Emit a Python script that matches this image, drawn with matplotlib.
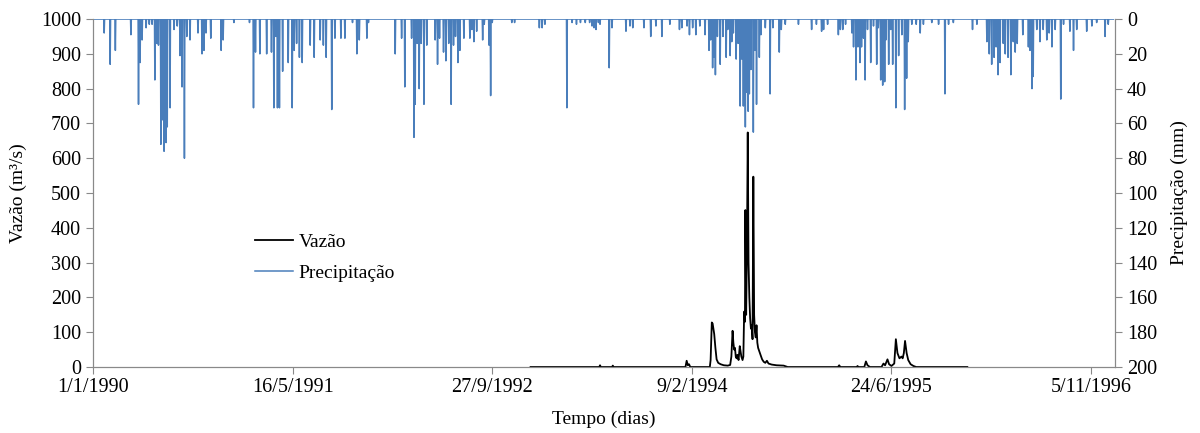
import datetime as dt
import numpy as np
import matplotlib
matplotlib.use("Agg")
import matplotlib.pyplot as plt
from matplotlib.ticker import FuncFormatter, MultipleLocator

plt.rcParams["font.family"] = ["Liberation Serif", "DejaVu Serif"]

START = dt.date(1990, 1, 1)
N_DAYS = 2557  # 1/1/1990 .. 31/12/1996

# daily rainfall events (day counted from 1/1/1990, mm); other days are dry
rain_day = [
    28, 43, 56, 95, 114, 118, 123, 133, 141, 148, 155, 160, 164, 170, 175, 178,
    183, 186, 193, 203, 211, 218, 223, 229, 235, 243, 263, 273, 278, 283, 295,
    321, 326, 353, 392, 402, 407, 418, 435, 447, 453, 458, 462, 467, 475, 489,
    499, 504, 510, 517, 524, 544, 554, 569, 577, 584, 598, 606, 621, 631,
    650, 661, 667, 686, 690, 757, 773, 781, 798, 804, 807, 812, 817, 822, 829,
    836, 857, 863, 868, 878, 884, 891, 897, 903, 908, 914, 919, 929, 944, 949,
    954, 961, 976, 980, 992, 996, 1000, 1049, 1056, 1118, 1125, 1132, 1187,
    1200, 1211, 1221, 1233, 1244, 1250, 1255, 1260, 1266, 1270, 1293, 1300,
    1335, 1345, 1352, 1380, 1397, 1410, 1425, 1445, 1469, 1475, 1488, 1494,
    1502, 1510, 1520, 1533, 1543, 1547, 1552, 1555, 1559, 1564, 1571, 1578,
    1586, 1590, 1596, 1600, 1604, 1611, 1616, 1621, 1625, 1629, 1634, 1637,
    1641, 1644, 1648, 1654, 1658, 1662, 1669, 1673, 1684, 1696, 1703, 1719,
    1724, 1734, 1767, 1800, 1812, 1825, 1830, 1840, 1867, 1872, 1878, 1885,
    1901, 1905, 1911, 1916, 1921, 1925, 1930, 1934, 1940, 1948, 1955, 1963,
    1967, 1973, 1978, 1983, 1986, 1993, 1998, 2003, 2011, 2018, 2026, 2033,
    2038, 2042, 2051, 2062, 2072, 2080, 2101, 2118, 2134, 2143, 2155, 2203,
    2214, 2239, 2245, 2251, 2257, 2262, 2267, 2272, 2280, 2285, 2292, 2299,
    2305, 2310, 2315, 2329, 2343, 2347, 2352, 2355, 2364, 2372, 2380, 2389,
    2395, 2402, 2410, 2424, 2431, 2447, 2456, 2464, 2489, 2502, 2514, 2535,
    2543,
]
rain_mm = [
    8, 26, 18, 9, 49, 25, 12, 5, 3, 3, 35, 14, 15, 72, 58, 76,
    71, 62, 51, 6, 4, 21, 39, 80, 10, 12, 8, 20, 18, 8, 11,
    18, 12, 2, 2, 51, 19, 20, 20, 19, 51, 10, 51, 51, 30, 25,
    51, 18, 14, 22, 25, 15, 22, 12, 15, 22, 52, 11, 11, 11,
    2, 20, 12, 11, 2, 20, 11, 39, 11, 68, 49, 14, 40, 14, 49,
    15, 12, 26, 11, 19, 24, 14, 49, 15, 10, 25, 18, 11, 11, 6,
    13, 7, 12, 3, 15, 44, 2, 2, 2, 5, 5, 3, 51,
    2, 3, 2, 2, 2, 4, 5, 6, 2, 3, 28, 5,
    7, 4, 5, 5, 10, 4, 10, 3, 6, 5, 4, 9,
    5, 9, 4, 9, 18, 12, 28, 22, 32, 10, 26, 10,
    22, 6, 21, 13, 8, 23, 14, 50, 23, 50, 62, 42,
    53, 43, 29, 65, 18, 49, 22, 9, 5, 43, 5, 19,
    6, 3, 3, 6, 3, 7, 6, 3, 9, 6, 6, 3,
    8, 16, 35, 16, 25, 16, 11, 35, 6, 25, 4, 26,
    5, 35, 38, 36, 12, 26, 6, 26, 51, 21, 9, 52,
    34, 13, 3, 3, 8, 3, 2, 3, 43, 3, 2, 6,
    3, 13, 20, 26, 22, 16, 32, 25, 14, 20, 22, 32,
    13, 19, 14, 9, 16, 18, 40, 33, 6, 13, 6, 12,
    8, 16, 6, 46, 3, 7, 18, 6, 7, 4, 2, 10,
    3,
]

# observed discharge, 1993-1995 (day from 1/1/1990, m3/s)
flow_day = [
    1096, 1268, 1270, 1272, 1300, 1302, 1304, 1484, 1487, 1490, 1493, 1496,
    1545, 1547, 1550, 1552, 1554, 1556, 1559, 1562, 1566, 1572, 1580, 1590,
    1596, 1599, 1602, 1604, 1606, 1608, 1610, 1612, 1614, 1617, 1620, 1622,
    1624, 1627, 1629, 1631, 1633, 1634, 1636, 1638, 1640, 1642, 1644, 1646,
    1648, 1650, 1652, 1654, 1656, 1658, 1660, 1662, 1664, 1666, 1669, 1672,
    1676, 1680, 1684, 1688, 1692, 1700, 1712, 1730, 1740, 1866, 1869, 1872,
    1913, 1915, 1917, 1932, 1936, 1940, 1946, 1975, 1980, 1984, 1990, 1994,
    2000, 2007, 2011, 2015, 2020, 2025, 2028, 2031, 2034, 2038, 2042, 2048,
    2055, 2062, 2190,
]
flow_val = [
    0, 0, 5, 0, 0, 4, 0, 0, 18, 5, 8, 0,
    0, 20, 128, 125, 110, 95, 55, 22, 12, 8, 5, 4,
    6, 30, 104, 70, 50, 55, 30, 25, 35, 20, 60, 45,
    30, 20, 30, 159, 130, 451, 150, 336, 674, 300, 200, 140,
    110, 120, 80, 547, 150, 100, 85, 120, 70, 55, 45, 35,
    22, 15, 12, 18, 10, 7, 5, 4, 0, 0, 5, 0,
    0, 3, 0, 0, 16, 5, 0, 0, 10, 5, 22, 8,
    3, 10, 80, 40, 25, 30, 25, 40, 75, 40, 20, 8,
    3, 0, 0,
]

rain = np.zeros(N_DAYS)
rain[rain_day] = rain_mm
days = np.arange(N_DAYS)

fig = plt.figure(figsize=(12, 4.33), dpi=100)
ax = fig.add_axes([0.0775, 0.1524, 0.8517, 0.8036])
ax2 = ax.twinx()

ax.plot(flow_day, flow_val, color="black", lw=1.3, label="Vazão")
ax2.plot(days, rain, color="#4a7ebb", lw=1.1, label="Precipitação")

ax.set_xlim(0, 2560)
ax.set_ylim(0, 1000)
ax2.set_ylim(200, 0)
ax.yaxis.set_major_locator(MultipleLocator(100))
ax2.yaxis.set_major_locator(MultipleLocator(20))
ax.xaxis.set_major_locator(MultipleLocator(500))


def date_label(x, pos):
    d = START + dt.timedelta(days=int(round(x)))
    return f"{d.day}/{d.month}/{d.year}"


ax.xaxis.set_major_formatter(FuncFormatter(date_label))

grey = "#898989"
for a in (ax, ax2):
    a.spines["top"].set_visible(False)
    for s in ("left", "right", "bottom"):
        a.spines[s].set_color(grey)
    a.tick_params(colors=grey, labelcolor="black", labelsize=14.5,
                  direction="out", length=5)
ax.tick_params(axis="x", pad=3)

ax.set_xlabel("Tempo (dias)", fontsize=14, labelpad=10)
ax.set_ylabel("Vazão (m³/s)", fontsize=14, labelpad=10)
ax2.set_ylabel("Precipitação (mm)", fontsize=14, labelpad=10)

h1, l1 = ax.get_legend_handles_labels()
h2, l2 = ax2.get_legend_handles_labels()
ax.legend(h1 + h2, l1 + l2, loc="upper left", bbox_to_anchor=(0.141, 0.435),
          frameon=False, fontsize=14, handlelength=1.95, labelspacing=0.7,
          handletextpad=0.3)

fig.savefig("out.png", dpi=100)
